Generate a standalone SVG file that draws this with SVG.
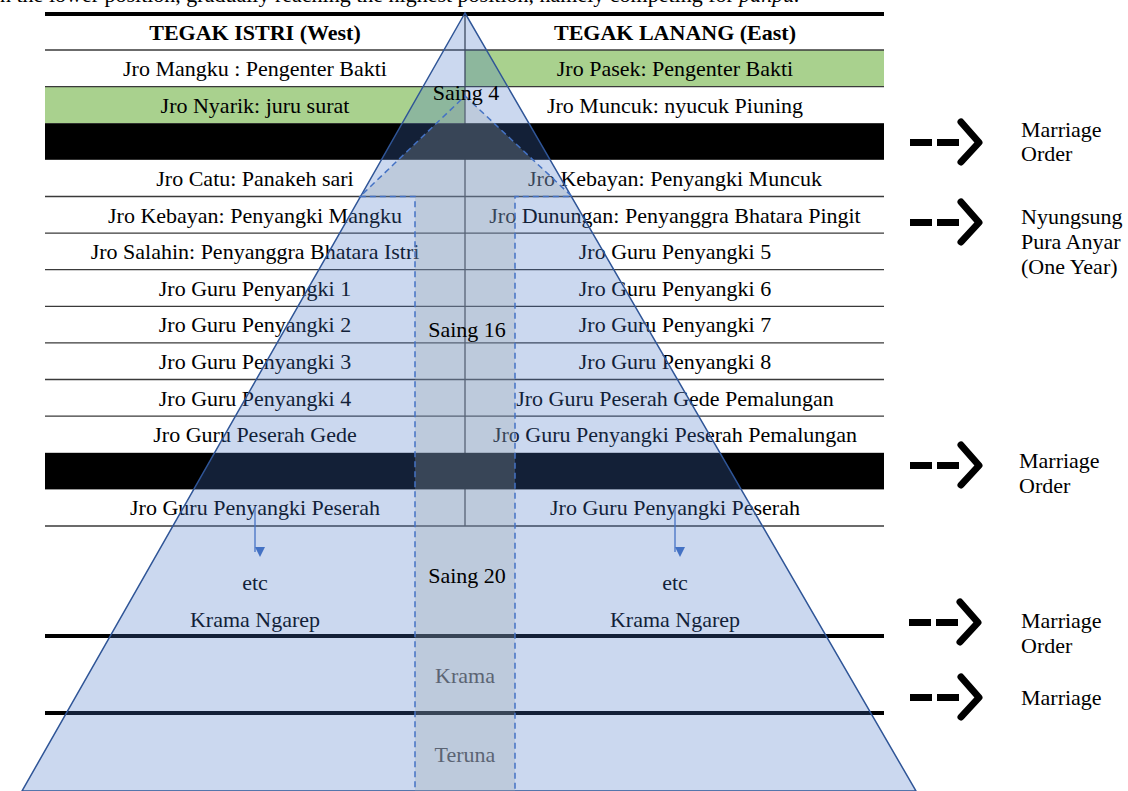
<svg xmlns="http://www.w3.org/2000/svg" width="1128" height="791" viewBox="0 0 1128 791">
<defs>
<style>
text{font-family:"Liberation Serif","Times New Roman",serif;font-size:22px;fill:#000}
.c{text-anchor:middle}
.h{font-weight:bold}
.rl{stroke:#3a3a3a;stroke-width:1.3}
.thick{stroke:#000;stroke-width:4}
.green{fill:#a9d18e}
.bar{fill:#000}
.dash{fill:#000}
.chev{fill:none;stroke:#000;stroke-width:7;stroke-linecap:round;stroke-linejoin:round}
.blue{stroke:#4472c4;stroke-width:1.3;fill:none}
.grey{fill:#5b6473}
</style>
<marker id="bh" viewBox="0 0 10 10" refX="5" refY="10" markerWidth="10" markerHeight="10" markerUnits="userSpaceOnUse" orient="auto">
<path d="M0,0 L10,0 L5,10 Z" fill="#4472c4" transform="rotate(-90 5 5)"/>
</marker>
</defs>
<rect width="1128" height="791" fill="#fff"/>
<text x="0" y="2">n the lower position, gradually reaching the highest position, namely competing for <tspan font-style="italic">pahpu.</tspan></text>

<g id="table">
<rect class="green" x="465" y="50" width="419" height="36.6"/>
<rect class="green" x="45" y="86.6" width="420" height="36.6"/>
<line class="rl" x1="465" y1="16" x2="465" y2="526"/>
<rect class="bar" x="45" y="123.2" width="839" height="36.6"/>
<rect class="bar" x="45" y="452.8" width="839" height="36.6"/>
<line class="thick" x1="45" y1="14" x2="884" y2="14"/>
<g>
<line class="rl" x1="45" y1="50" x2="884" y2="50"/>
<line class="rl" x1="45" y1="86.6" x2="884" y2="86.6"/>
<line class="rl" x1="45" y1="196.5" x2="884" y2="196.5"/>
<line class="rl" x1="45" y1="233.1" x2="884" y2="233.1"/>
<line class="rl" x1="45" y1="269.7" x2="884" y2="269.7"/>
<line class="rl" x1="45" y1="306.3" x2="884" y2="306.3"/>
<line class="rl" x1="45" y1="342.9" x2="884" y2="342.9"/>
<line class="rl" x1="45" y1="379.5" x2="884" y2="379.5"/>
<line class="rl" x1="45" y1="416.2" x2="884" y2="416.2"/>
<line class="rl" x1="45" y1="526" x2="884" y2="526"/>
</g>
</g>

<g id="header">
<text class="c h" x="255" y="40">TEGAK ISTRI (West)</text>
<text class="c h" x="675" y="40">TEGAK LANANG (East)</text>
</g>

<g id="west">
<text class="c" x="255" y="76">Jro Mangku : Pengenter Bakti</text>
<text class="c" x="255" y="112.6">Jro Nyarik: juru surat</text>
<text class="c" x="255" y="185.8">Jro Catu: Panakeh sari</text>
<text class="c" x="255" y="222.5">Jro Kebayan: Penyangki Mangku</text>
<text class="c" x="255" y="259.1">Jro Salahin: Penyanggra Bhatara Istri</text>
<text class="c" x="255" y="295.7">Jro Guru Penyangki 1</text>
<text class="c" x="255" y="332.3">Jro Guru Penyangki 2</text>
<text class="c" x="255" y="368.9">Jro Guru Penyangki 3</text>
<text class="c" x="255" y="405.5">Jro Guru Penyangki 4</text>
<text class="c" x="255" y="442.2">Jro Guru Peserah Gede</text>
<text class="c" x="255" y="515.4">Jro Guru Penyangki Peserah</text>
<text class="c" x="255" y="590">etc</text>
<text class="c" x="255" y="627">Krama Ngarep</text>
</g>

<g id="east">
<text class="c" x="675" y="76">Jro Pasek: Pengenter Bakti</text>
<text class="c" x="675" y="112.6">Jro Muncuk: nyucuk Piuning</text>
<text class="c" x="675" y="185.8">Jro Kebayan: Penyangki Muncuk</text>
<text class="c" x="675" y="222.5">Jro Dunungan: Penyanggra Bhatara Pingit</text>
<text class="c" x="675" y="259.1">Jro Guru Penyangki 5</text>
<text class="c" x="675" y="295.7">Jro Guru Penyangki 6</text>
<text class="c" x="675" y="332.3">Jro Guru Penyangki 7</text>
<text class="c" x="675" y="368.9">Jro Guru Penyangki 8</text>
<text class="c" x="675" y="405.5">Jro Guru Peserah Gede Pemalungan</text>
<text class="c" x="675" y="442.2">Jro Guru Penyangki Peserah Pemalungan</text>
<text class="c" x="675" y="515.4">Jro Guru Penyangki Peserah</text>
<text class="c" x="675" y="590">etc</text>
<text class="c" x="675" y="627">Krama Ngarep</text>
</g>

<g id="levels">
<line class="thick" x1="45" y1="636" x2="884" y2="636"/>
<line class="thick" x1="45" y1="713" x2="884" y2="713"/>
</g>

<g id="pyramid">
<polygon points="465,13 22,791 916,791" fill="#4472c4" fill-opacity="0.28" stroke="#2f5597" stroke-width="1.5"/>
</g>

<g id="inner">
<polygon points="465,96 572,196.5 515,196.5 515,800 415,800 415,196.5 360,196.5 465,96" fill="#9aa4ac" fill-opacity="0.28" stroke="#4472c4" stroke-width="1.5" stroke-dasharray="6,4"/>
</g>

<g id="labels">
<text class="c" x="466" y="100">Saing 4</text>
<text class="c" x="467" y="337">Saing 16</text>
<text class="c" x="467" y="583">Saing 20</text>
<text class="c grey" x="465" y="683">Krama</text>
<text class="c grey" x="465" y="762">Teruna</text>
</g>

<g id="connectors">
<line class="blue" x1="255" y1="507" x2="255" y2="552" marker-end="url(#bh)"/>
<line class="blue" x1="675" y1="507" x2="675" y2="552" marker-end="url(#bh)"/>
</g>

<g id="arrows">
<g id="arrow1">
<rect class="dash" x="910" y="139" width="22" height="7"/><rect class="dash" x="937" y="139" width="22" height="7"/>
<polyline class="chev" points="961,122 979,142.5 961,162"/>
<text x="1021" y="137">Marriage</text><text x="1021" y="161">Order</text>
</g>
<g id="arrow2">
<rect class="dash" x="910" y="219" width="22" height="7"/><rect class="dash" x="937" y="219" width="22" height="7"/>
<polyline class="chev" points="961,202 979,222.5 961,242"/>
<text x="1021" y="224">Nyungsung</text><text x="1021" y="249">Pura Anyar</text><text x="1021" y="274">(One Year)</text>
</g>
<g id="arrow3">
<rect class="dash" x="910" y="462" width="22" height="7"/><rect class="dash" x="937" y="462" width="22" height="7"/>
<polyline class="chev" points="961,445 979,465.5 961,485"/>
<text x="1019" y="468">Marriage</text><text x="1019" y="493">Order</text>
</g>
<g id="arrow4">
<rect class="dash" x="909" y="619" width="22" height="7"/><rect class="dash" x="936" y="619" width="22" height="7"/>
<polyline class="chev" points="960,602 978,622.5 960,642"/>
<text x="1021" y="628">Marriage</text><text x="1021" y="653">Order</text>
</g>
<g id="arrow5">
<rect class="dash" x="910" y="694" width="22" height="7"/><rect class="dash" x="937" y="694" width="22" height="7"/>
<polyline class="chev" points="961,677 979,697.5 961,717"/>
<text x="1021" y="705">Marriage</text>
</g>
</g>
</svg>
